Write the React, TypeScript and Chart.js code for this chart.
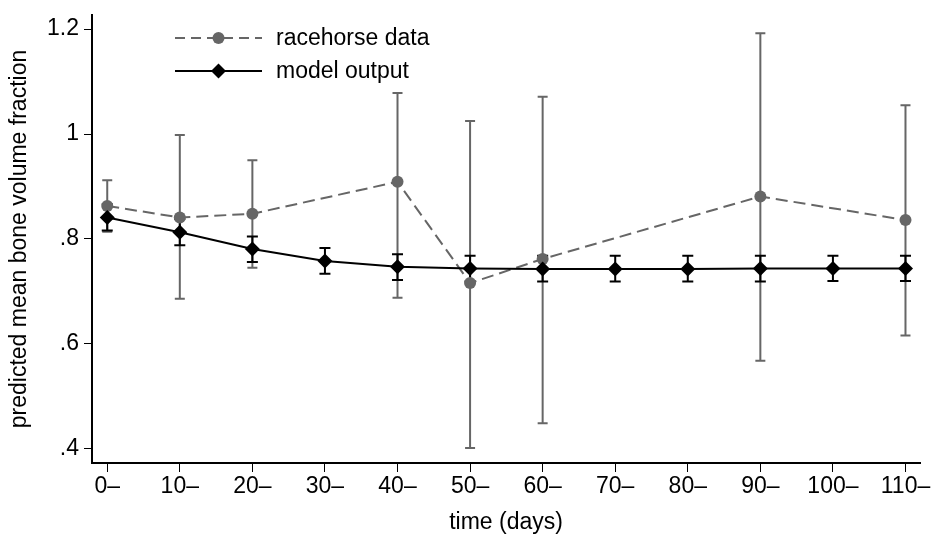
import React, { useEffect, useRef } from "react";
import { Chart, registerables } from "chart.js";

Chart.register(...registerables);

const days = [0, 10, 20, 30, 40, 50, 60, 70, 80, 90, 100, 110];
const xTickValues = [0, 10, 20, 30, 40, 50, 60, 70, 80, 90, 100, 110];
const yTickValues = [0.4, 0.6, 0.8, 1.0, 1.2];
const yTickLabels = [".4", ".6", ".8", "1", "1.2"];

const raceDays = [0, 10, 20, 40, 50, 60, 90, 110];
const raceMean = [0.863, 0.841, 0.848, 0.909, 0.716, 0.762, 0.881, 0.836];
const raceLow = [0.814, 0.686, 0.745, 0.688, 0.402, 0.449, 0.568, 0.616];
const raceHigh = [0.912, 0.998, 0.95, 1.078, 1.025, 1.071, 1.192, 1.055];

const modelMean = [0.841, 0.813, 0.781, 0.758, 0.747, 0.744, 0.743, 0.743, 0.743, 0.744, 0.744, 0.744];
const modelLow = [0.816, 0.788, 0.756, 0.734, 0.722, 0.719, 0.719, 0.719, 0.719, 0.719, 0.72, 0.72];
const modelHigh = [0.866, 0.838, 0.805, 0.783, 0.771, 0.768, 0.768, 0.768, 0.768, 0.768, 0.768, 0.768];

const GRAY = "#666666";
const FONT = "'Liberation Sans', Arial, Helvetica, sans-serif";
const FS = 23;

const errorBarPlugin = {
  id: "errorBars",
  beforeDatasetsDraw(chart: any) {
    const ctx = chart.ctx;
    const xs = chart.scales.x;
    const ys = chart.scales.y;
    const draw = (xv: number[], lo: number[], hi: number[], color: string, lw: number, cap: number) => {
      ctx.save();
      ctx.strokeStyle = color;
      ctx.lineWidth = lw;
      for (let i = 0; i < xv.length; i++) {
        const x = xs.getPixelForValue(xv[i]);
        const y1 = ys.getPixelForValue(lo[i]);
        const y2 = ys.getPixelForValue(hi[i]);
        ctx.beginPath();
        ctx.moveTo(x, y1);
        ctx.lineTo(x, y2);
        ctx.moveTo(x - cap, y1);
        ctx.lineTo(x + cap, y1);
        ctx.moveTo(x - cap, y2);
        ctx.lineTo(x + cap, y2);
        ctx.stroke();
      }
      ctx.restore();
    };
    draw(raceDays, raceLow, raceHigh, GRAY, 2, 5);
    draw(days, modelLow, modelHigh, "#000000", 2, 5.5);
  },
};

const legendPlugin = {
  id: "customLegend",
  afterDraw(chart: any) {
    const ctx = chart.ctx;
    const area = chart.chartArea;
    const x0 = area.left + 83;
    const x1 = area.left + 170;
    const xm = (x0 + x1) / 2;
    const rows = [
      { y: area.top + 23, label: "racehorse data", color: GRAY, dash: [10, 6], marker: "circle" },
      { y: area.top + 56, label: "model output", color: "#000", dash: [], marker: "diamond" },
    ];
    ctx.save();
    for (const r of rows) {
      ctx.strokeStyle = r.color;
      ctx.lineWidth = 2;
      ctx.setLineDash(r.dash);
      ctx.beginPath();
      ctx.moveTo(x0, r.y);
      ctx.lineTo(x1, r.y);
      ctx.stroke();
      ctx.setLineDash([]);
      ctx.fillStyle = r.color;
      ctx.beginPath();
      if (r.marker === "circle") {
        ctx.arc(xm, r.y, 6, 0, Math.PI * 2);
      } else {
        ctx.moveTo(xm, r.y - 7.5);
        ctx.lineTo(xm + 7.5, r.y);
        ctx.lineTo(xm, r.y + 7.5);
        ctx.lineTo(xm - 7.5, r.y);
        ctx.closePath();
      }
      ctx.fill();
      ctx.fillStyle = "#000";
      ctx.font = `${FS}px ${FONT}`;
      ctx.textBaseline = "middle";
      ctx.textAlign = "left";
      ctx.fillText(r.label, x1 + 14, r.y + 1);
    }
    ctx.restore();
  },
};

const zeroPad = (s: any) => {
  s.paddingTop = 0;
  s.paddingBottom = 0;
  s.paddingLeft = 0;
  s.paddingRight = 0;
};

export default function App() {
  const ref = useRef<HTMLCanvasElement | null>(null);
  useEffect(() => {
    document.body.style.margin = "0";
    const canvas = ref.current;
    if (!canvas) return;
    const chart = new Chart(canvas, {
      type: "line",
      data: {
        datasets: [
          {
            label: "model output",
            data: days.map((d, i) => ({ x: d, y: modelMean[i] })),
            borderColor: "#000",
            backgroundColor: "#000",
            borderWidth: 2,
            pointStyle: "rectRot",
            pointRadius: 7.5,
            pointBorderWidth: 0,
            order: 1,
          },
          {
            label: "racehorse data",
            data: raceDays.map((d, i) => ({ x: d, y: raceMean[i] })),
            borderColor: GRAY,
            backgroundColor: GRAY,
            borderWidth: 2,
            borderDash: [12, 6],
            pointStyle: "circle",
            pointRadius: 6,
            pointBorderWidth: 0,
            order: 2,
          },
        ],
      },
      options: {
        animation: false,
        responsive: false,
        maintainAspectRatio: false,
        layout: { padding: { top: 15, right: 19, left: 0, bottom: 0 } },
        plugins: { legend: { display: false }, tooltip: { enabled: false } },
        scales: {
          x: {
            type: "linear",
            min: -2.1,
            max: 112,
            afterBuildTicks: (s: any) => {
              s.ticks = xTickValues.map((v) => ({ value: v }));
            },
            afterFit: (s: any) => {
              s.height = 76;
              zeroPad(s);
            },
            ticks: {
              color: "#000",
              font: { family: FONT, size: FS },
              padding: 1,
              maxRotation: 0,
              autoSkip: false,
              callback: (v: any) => `${v}\u2013`,
            },
            grid: { drawOnChartArea: false, drawTicks: true, tickLength: 9, color: "#000", lineWidth: 1 },
            border: { display: true, color: "#000", width: 2 },
            title: {
              display: true,
              text: "time (days)",
              color: "#000",
              font: { family: FONT, size: FS },
              padding: { top: 4, bottom: 3 },
            },
          },
          y: {
            type: "linear",
            min: 0.3733,
            max: 1.2267,
            afterBuildTicks: (s: any) => {
              s.ticks = yTickValues.map((v) => ({ value: v }));
            },
            afterFit: (s: any) => {
              s.width = 92;
              zeroPad(s);
            },
            ticks: {
              color: "#000",
              font: { family: FONT, size: FS },
              padding: 5,
              autoSkip: false,
              callback: (v: any) => {
                const i = yTickValues.findIndex((t) => Math.abs(t - v) < 1e-6);
                return i >= 0 ? yTickLabels[i] : "";
              },
            },
            grid: { drawOnChartArea: false, drawTicks: true, tickLength: 8, color: "#000", lineWidth: 1 },
            border: { display: true, color: "#000", width: 2 },
            title: {
              display: true,
              text: "predicted mean bone volume fraction",
              color: "#000",
              font: { family: FONT, size: FS },
              padding: { top: 6, bottom: 0 },
            },
          },
        },
      },
      plugins: [errorBarPlugin, legendPlugin],
    } as any);
    return () => chart.destroy();
  }, []);
  return (
    <div style={{ width: 939, height: 539, background: "#fff" }}>
      <canvas ref={ref} width={939} height={539} style={{ display: "block", width: 939, height: 539 }} />
    </div>
  );
}
